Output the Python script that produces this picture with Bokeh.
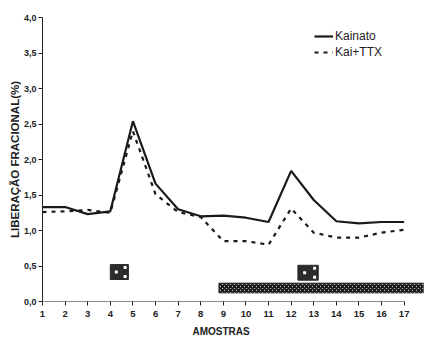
from bokeh.plotting import figure
from bokeh.models import Range1d, FixedTicker, CustomJSTickFormatter, Legend, LegendItem, Title
from bokeh.embed import file_html
from bokeh.resources import INLINE

amostras = list(range(1, 18))
kainato = [1.33, 1.33, 1.23, 1.27, 2.54, 1.66, 1.30, 1.20, 1.21, 1.18, 1.12, 1.84, 1.43, 1.13, 1.10, 1.12, 1.12]
kai_ttx = [1.26, 1.27, 1.29, 1.25, 2.40, 1.51, 1.26, 1.19, 0.85, 0.85, 0.80, 1.31, 0.97, 0.90, 0.90, 0.97, 1.01]
y_ticks = [0.0, 0.5, 1.0, 1.5, 2.0, 2.5, 3.0, 3.5, 4.0]

# stimulus boxes (kainate applications) and TTX bar
stim_x0 = [4.0, 12.3]
stim_x1 = [4.8, 13.2]
stim_y0 = [0.31, 0.30]
stim_y1 = [0.52, 0.51]
ttx_x0, ttx_x1 = 8.8, 17.85
ttx_y0, ttx_y1 = 0.12, 0.26

FONT = "Liberation Sans"

p = figure(width=424, height=340, output_backend="svg", toolbar_location=None,
           x_range=Range1d(1, 17.9), y_range=Range1d(0, 4.0),
           min_border_left=42, min_border_right=0, min_border_top=17, min_border_bottom=39)
p.outline_line_color = None
p.grid.visible = False
p.background_fill_color = "white"
p.border_fill_color = "white"

# axes
p.xaxis.ticker = FixedTicker(ticks=amostras)
p.yaxis.ticker = FixedTicker(ticks=y_ticks)
p.yaxis.formatter = CustomJSTickFormatter(code="return tick.toFixed(1).replace('.', ',');")
for ax in (p.xaxis, p.yaxis):
    ax.minor_tick_line_color = None
    ax.major_tick_in = 0
    ax.major_tick_out = 4
    ax.major_tick_line_color = "#222222"
    ax.axis_line_color = "#222222"
    ax.major_label_text_font = FONT
    ax.major_label_text_font_style = "bold"
    ax.major_label_text_color = "#222222"
    ax.axis_label_text_font = FONT
    ax.axis_label_text_font_style = "bold"
    ax.axis_label_text_color = "#222222"
p.xaxis.major_label_text_font_size = "9.5px"
p.xaxis.major_label_standoff = 5
p.yaxis.major_label_text_font_size = "9px"
p.yaxis.major_label_standoff = 2
p.yaxis.axis_label = "LIBERAÇÃO FRACIONAL(%)"
p.yaxis.axis_label_text_font_size = "11.5px"
p.yaxis.axis_label_standoff = 0
p.xaxis.axis_line_color = None
p.segment(x0=[amostras[0]], x1=[amostras[-1]], y0=[0], y1=[0], line_color="#222222", line_width=1)

xt = Title(text="AMOSTRAS", align="left", offset=150, standoff=8,
           text_font=FONT, text_font_style="bold", text_font_size="10px", text_color="#222222")
p.add_layout(xt, "below")

# lines
r1 = p.line(amostras, kainato, line_color="#1a1a1a", line_width=2.2)
r2 = p.line(amostras, kai_ttx, line_color="#1a1a1a", line_width=2.2, line_dash="4 5")

# TTX bar
p.quad(left=[ttx_x0], right=[ttx_x1], bottom=[ttx_y0], top=[ttx_y1],
       fill_color="white", line_color="#444444", line_width=0.8,
       hatch_pattern="diagonal_cross", hatch_color="#1a1a1a", hatch_scale=4, hatch_weight=2.2)

# stimulus boxes
p.quad(left=stim_x0, right=stim_x1, bottom=stim_y0, top=stim_y1,
       fill_color="#2b2b2b", line_color="#2b2b2b")
dot_x, dot_y = [], []
for a, b, c, d in zip(stim_x0, stim_x1, stim_y0, stim_y1):
    w, h = b - a, d - c
    dot_x += [a + 0.33 * w, a + 0.82 * w, a + 0.82 * w]
    dot_y += [c + 0.5 * h, c + 0.8 * h, c + 0.2 * h]
p.scatter(dot_x, dot_y, marker="square", size=3, fill_color="white", line_color=None)

legend = Legend(items=[LegendItem(label="Kainato", renderers=[r1]),
                       LegendItem(label="Kai+TTX", renderers=[r2])],
                location=(272, 242))
legend.border_line_color = None
legend.background_fill_alpha = 0
legend.label_text_font = FONT
legend.label_text_font_size = "12px"
legend.label_text_color = "#222222"
legend.glyph_width = 19
legend.glyph_height = 14
legend.label_height = 14
legend.label_standoff = 2
legend.spacing = 2
legend.padding = 2
legend.margin = 0
p.add_layout(legend)

open("out.html", "w").write(file_html(p, INLINE))
